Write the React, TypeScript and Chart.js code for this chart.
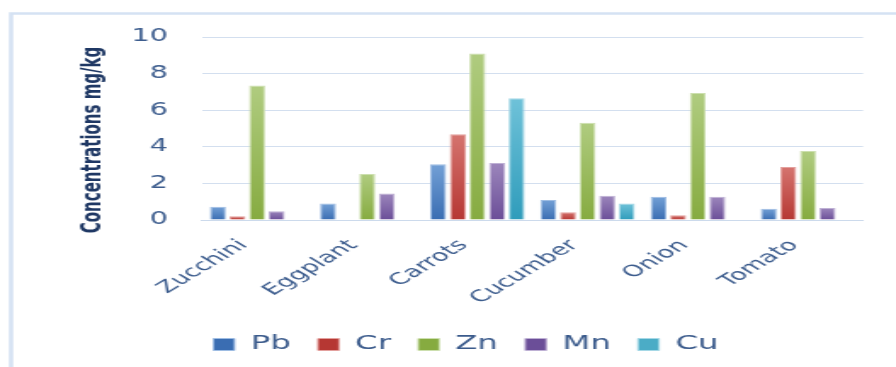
import React, { useEffect, useRef } from "react";
import { Chart, registerables } from "chart.js";

Chart.register(...registerables);

const categories = ["Zucchini", "Eggplant", "Carrots", "Cucumber", "Onion", "Tomato"];
const seriesNames = ["Pb", "Cr", "Zn", "Mn", "Cu"];
const pb = [0.72, 0.9, 3.05, 1.09, 1.27, 0.61];
const cr = [0.2, null, 4.68, 0.43, 0.26, 2.89];
const zn = [7.35, 2.52, 9.1, 5.32, 6.94, 3.77];
const mn = [0.48, 1.45, 3.11, 1.33, 1.27, 0.66];
const cu = [null, null, 6.65, 0.9, null, null];
const yTitle = "Concentrations mg/kg";
const yMin = 0;
const yMax = 10;
const yStep = 2;

const colors = [
  { top: "#73A0D6", bottom: "#3A6DB2", solid: "#4F81BD", border: "#9DBCE3" },
  { top: "#D5746F", bottom: "#B63733", solid: "#C0504D", border: "#E3A09D" },
  { top: "#B0CC80", bottom: "#86AB40", solid: "#9BBB59", border: "#CCDFAE" },
  { top: "#9C86BC", bottom: "#6B4E98", solid: "#8064A2", border: "#BEB0D4" },
  { top: "#6FC2D9", bottom: "#2F9CBB", solid: "#4BACC6", border: "#A5D8E6" },
];

const W = 896;
const H = 367;
const SX = 1.7;
const IW = Math.round(W / SX);

export default function App() {
  const ref = useRef<HTMLCanvasElement | null>(null);
  useEffect(() => {
    const canvas = ref.current;
    if (!canvas) return;
    const values = [pb, cr, zn, mn, cu];
    const datasets = values.map((d, i) => ({
      label: seriesNames[i],
      data: d,
      backgroundColor: (c: any) => {
        const chart = c.chart;
        const col = colors[i];
        if (!chart.chartArea || !c.parsed || c.parsed.y == null) return col.solid;
        const ys = chart.scales.y;
        const t = ys.getPixelForValue(c.parsed.y);
        const b = ys.getPixelForValue(0);
        if (!isFinite(t) || !isFinite(b) || b - t < 1) return col.solid;
        const g = chart.ctx.createLinearGradient(0, t, 0, b);
        g.addColorStop(0, col.top);
        g.addColorStop(1, col.bottom);
        return g;
      },
      borderColor: colors[i].border,
      borderWidth: 1,
      categoryPercentage: 0.89,
      barPercentage: 0.82,
    }));

    const framePlugin = {
      id: "frame",
      beforeDraw(chart: any) {
        const ctx = chart.ctx;
        ctx.save();
        ctx.fillStyle = "#FFFFFF";
        ctx.fillRect(0, 0, chart.width, chart.height);
        ctx.strokeStyle = "#D5E2F3";
        ctx.lineWidth = 2.5;
        ctx.beginPath();
        ctx.moveTo(6.5, H);
        ctx.lineTo(6.5, 13.5);
        ctx.lineTo(chart.width, 13.5);
        ctx.stroke();
        ctx.restore();
      },
      afterDraw(chart: any) {
        const ctx = chart.ctx;
        ctx.save();
        ctx.translate(55.5, 140);
        ctx.rotate(-Math.PI / 2);
        ctx.font = "bold 15px 'DejaVu Sans'";
        ctx.fillStyle = "#1F3864";
        ctx.textAlign = "center";
        ctx.textBaseline = "middle";
        ctx.fillText(yTitle, 0, 0);
        ctx.restore();
      },
    };

    const chart = new Chart(canvas, {
      type: "bar",
      data: { labels: categories, datasets },
      options: {
        animation: false,
        responsive: false,
        devicePixelRatio: 1,
        layout: { padding: { left: 40.4, right: 19.4, top: 37, bottom: 3 } },
        plugins: {
          legend: {
            position: "bottom",
            labels: {
              boxWidth: 12.4,
              boxHeight: 12,
              padding: 16,
              color: "#3B5B8C",
              font: { family: "'DejaVu Sans'", size: 19 },
            },
          },
          tooltip: { enabled: false },
        },
        scales: {
          x: {
            grid: { display: false, drawTicks: false },
            border: { display: true, color: "#CCDAEC", width: 1 },
            ticks: {
              minRotation: 45,
              maxRotation: 45,
              padding: 16,
              labelOffset: -8,
              color: "#3D5D8E",
              font: { family: "'DejaVu Sans'", size: 16 },
            },
            afterFit: (s: any) => {
              s.height = 99;
            },
          },
          y: {
            min: yMin,
            max: yMax,
            grid: { color: "#D3DFEF", lineWidth: 1, drawTicks: false },
            border: { display: false },
            ticks: {
              stepSize: yStep,
              padding: 20,
              color: "#3D5D8E",
              font: { family: "'DejaVu Sans'", size: 17 },
            },
            afterFit: (s: any) => {
              s.width = 78.4;
            },
          },
        },
      },
      plugins: [framePlugin],
    } as any);
    return () => chart.destroy();
  }, []);

  return (
    <div style={{ position: "absolute", left: 0, top: 0, width: W, height: H, background: "#fff" }}>
      <canvas ref={ref} width={IW} height={H} style={{ width: W + "px", height: H + "px", display: "block" }} />
    </div>
  );
}
